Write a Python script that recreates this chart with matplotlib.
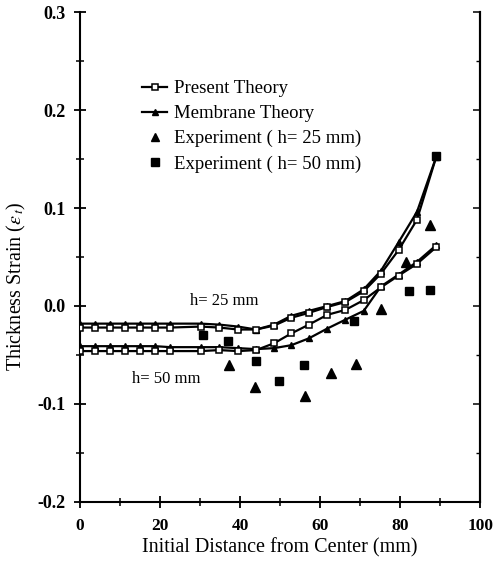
import matplotlib
matplotlib.use("Agg")
import matplotlib.pyplot as plt
from matplotlib.ticker import MultipleLocator

plt.rcParams['font.family'] = ['Liberation Serif', 'DejaVu Serif']
plt.rcParams['mathtext.fontset'] = 'stix'

# node positions (mm)
x_nodes = [0, 3.8, 7.5, 11.3, 15, 18.8, 22.5, 30.2, 34.8, 39.5, 44, 48.5,
           52.8, 57.2, 61.8, 66.3, 70.9, 75.2, 79.6, 84.2, 89]

# h = 25 mm
present_25 = [-0.022, -0.022, -0.022, -0.022, -0.022, -0.022, -0.022, -0.021,
              -0.022, -0.024, -0.024, -0.020, -0.012, -0.007, -0.001, 0.004,
              0.015, 0.033, 0.057, 0.088, 0.152]
membrane_25 = [-0.018, -0.018, -0.018, -0.018, -0.018, -0.018, -0.018, -0.018,
               -0.019, -0.021, -0.024, -0.019, -0.010, -0.005, 0.000, 0.005,
               0.017, 0.036, 0.065, 0.096, 0.152]
# h = 50 mm
present_50 = [-0.046, -0.046, -0.046, -0.046, -0.046, -0.046, -0.046, -0.046,
              -0.045, -0.046, -0.045, -0.038, -0.028, -0.019, -0.009, -0.004,
              0.006, 0.019, 0.031, 0.043, 0.060]
membrane_50 = [-0.041, -0.041, -0.041, -0.041, -0.041, -0.041, -0.042, -0.042,
               -0.042, -0.043, -0.044, -0.043, -0.040, -0.033, -0.023, -0.014,
               -0.005, 0.020, 0.032, 0.045, 0.062]

# experiments
exp25_x = [37.3, 43.8, 56.3, 62.6, 68.9, 75.3, 81.5, 87.5]
exp25_y = [-0.060, -0.083, -0.092, -0.068, -0.059, -0.003, 0.045, 0.083]
exp50_x = [30.7, 37.1, 43.9, 49.7, 56.0, 68.5, 82.1, 87.5, 89.0]
exp50_y = [-0.030, -0.036, -0.056, -0.077, -0.060, -0.015, 0.015, 0.016, 0.153]

legend_labels = ['Present Theory', 'Membrane Theory',
                 'Experiment ( h= 25 mm)', 'Experiment ( h= 50 mm)']
x_ticks = [0, 20, 40, 60, 80, 100]
y_ticks = [-0.2, -0.1, 0.0, 0.1, 0.2, 0.3]
y_ticklabels = ['-0.2', '-0.1', '0.0', '0.1', '0.2', '0.3']

fig = plt.figure(figsize=(4.93, 5.72), dpi=100)
ax = fig.add_axes([0.1623, 0.1224, 0.8117, 0.8566])

lw = 1.6
for y in (present_25, present_50):
    ax.plot(x_nodes, y, color='black', lw=lw, marker='s', ms=4.8,
            mfc='white', mec='black', mew=1.1, zorder=3)
for y in (membrane_25, membrane_50):
    ax.plot(x_nodes, y, color='black', lw=lw, marker='^', ms=4.8,
            mfc='black', mec='black', zorder=2)
ax.plot(exp25_x, exp25_y, ls='none', marker='^', ms=6.8, color='black', zorder=4)
ax.plot(exp50_x, exp50_y, ls='none', marker='s', ms=5.8, color='black', zorder=4)

# legend handles
h1, = ax.plot([], [], color='black', lw=lw, marker='s', ms=4.8, mfc='white', mec='black', mew=1.1)
h2, = ax.plot([], [], color='black', lw=lw, marker='^', ms=4.8, mfc='black')
h3, = ax.plot([], [], ls='none', marker='^', ms=5.8, color='black')
h4, = ax.plot([], [], ls='none', marker='s', ms=5.2, color='black')
ax.legend([h1, h2, h3, h4], legend_labels,
          loc='upper left', bbox_to_anchor=(0.155, 0.861), frameon=False,
          fontsize=13.5, handlelength=1.35, handletextpad=0.35, labelspacing=0.42,
          borderaxespad=0, borderpad=0)

ax.text(36, 0.005, 'h= 25 mm', fontsize=12, ha='center', va='center')
ax.text(21.6, -0.074, 'h= 50 mm', fontsize=12, ha='center', va='center')

ax.set_xlim(0, 100)
ax.set_ylim(-0.2, 0.3)
ax.set_xticks(x_ticks)
ax.set_xticklabels([str(v) for v in x_ticks])
ax.set_yticks(y_ticks)
ax.set_yticklabels(y_ticklabels)
ax.xaxis.set_minor_locator(MultipleLocator(10))
ax.yaxis.set_minor_locator(MultipleLocator(0.05))

ax.spines['top'].set_visible(False)
for s in ('left', 'bottom', 'right'):
    ax.spines[s].set_linewidth(1.5)

ax.tick_params(axis='both', which='major', direction='inout', length=9, width=1.3,
               labelsize=13)
ax.tick_params(axis='x', which='major', labelsize=12.5, pad=7)
ax.tick_params(axis='both', which='minor', direction='inout', length=6, width=1.1)
ax.tick_params(axis='y', which='major', pad=6)
for lab in ax.get_xticklabels() + ax.get_yticklabels():
    lab.set_fontweight('bold')

# inward ticks on the right spine
sec = ax.secondary_yaxis('right')
sec.set_yticks(y_ticks)
sec.yaxis.set_minor_locator(MultipleLocator(0.05))
sec.tick_params(which='major', direction='in', length=5, width=1.1, labelright=False)
sec.tick_params(which='minor', direction='in', length=3, width=1.0)
sec.spines['right'].set_linewidth(1.5)

ax.set_xlabel('Initial Distance from Center (mm)', fontsize=14.5, labelpad=3)
ax.set_ylabel(r'Thickness Strain ($\varepsilon_{\,t}$)', fontsize=14.5)
ax.yaxis.set_label_coords(-0.13, 0.44)

fig.savefig('out.png', dpi=100)
